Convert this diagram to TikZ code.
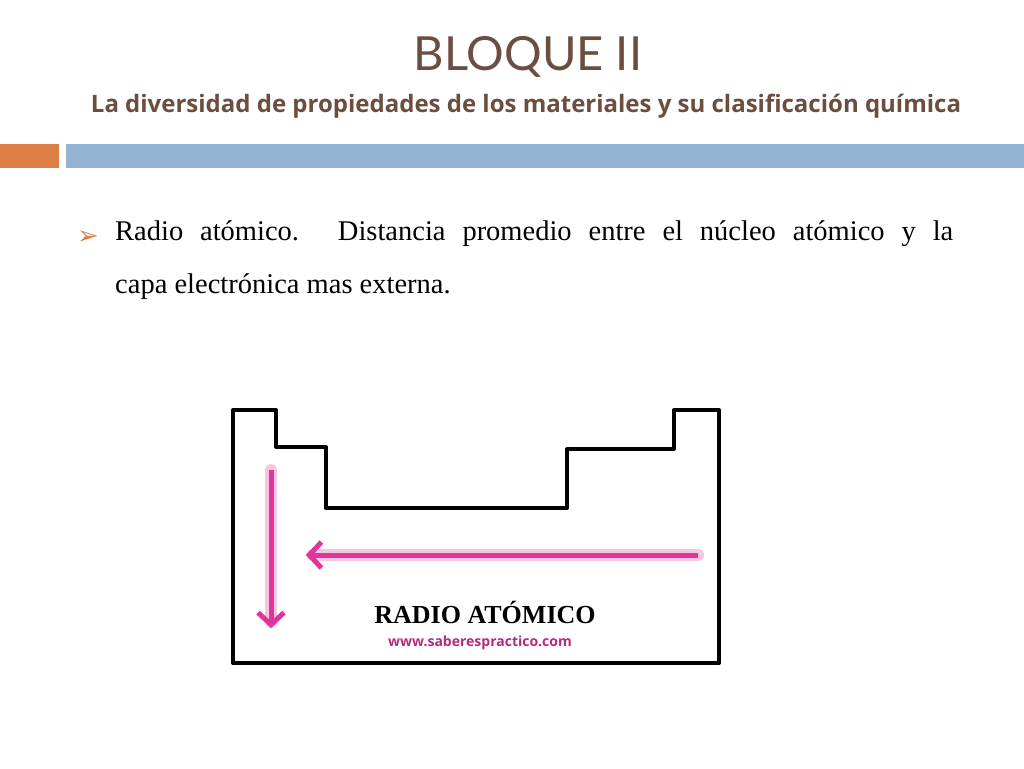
\documentclass[tikz,border=0pt]{standalone}
\usepackage{fontspec}
\setmainfont{Liberation Serif}
\newfontfamily\titlefont{Lato}
\newfontfamily\subfont{Open Sans}
\newfontfamily\symfont{DejaVu Sans}
\usetikzlibrary{arrows.meta}
\definecolor{titlec}{HTML}{6B4E3F}
\definecolor{orangec}{HTML}{DE7F46}
\definecolor{bluec}{HTML}{93B4D3}
\definecolor{pinkc}{HTML}{E0359E}
\definecolor{glowc}{HTML}{F4B0D2}
\tikzset{pinkarrow/.style={line width=5pt,pinkc,-{Straight Barb[length=12pt,width=26pt,line width=5pt]}},
 glow/.style={line width=12pt,glowc,line cap=round,opacity=0.7}}
\begin{document}
\begin{tikzpicture}[x=1pt,y=-1pt]
\useasboundingbox (0,0) rectangle (1024,768);
\fill[white] (0,0) rectangle (1024,768);
\fill[orangec] (0,144) rectangle (59,168);
\fill[bluec] (66,144) rectangle (1024,168);
\node[titlec,font=\titlefont\fontsize{47}{50}\selectfont] (title) at (528,57) {BLOQUE II};
\node[titlec,font=\subfont\bfseries\fontsize{24}{26}\selectfont] (sub) at (526,106) {La diversidad de propiedades de los materiales y su clasificación química};
\node[orangec,font=\symfont\fontsize{26}{28}\selectfont] (bul) at (88,238) {➢};
\node[anchor=north west,text width=838pt,align=justify,inner sep=0pt,font=\fontsize{28.5}{53}\selectfont] (body) at (115,220)
 {\hyphenpenalty=10000 Radio atómico. Distancia promedio entre el núcleo atómico y la\linebreak capa electrónica mas externa.};
\draw[line width=4pt,line join=round] (233,410)--(276,410)--(276,447)--(326,447)--(326,508)--(567,508)--(567,449)--(674,449)--(674,410)--(719,410)--(719,663)--(233,663)--cycle;
\coordinate (v1) at (271,470); \coordinate (v2) at (271,628);
\coordinate (h1) at (698,555); \coordinate (h2) at (306,555);
\draw[glow] (v1)--(271,622);
\draw[glow] (h1)--(312,555);
\draw[pinkarrow] (v1)--(v2);
\draw[pinkarrow] (h1)--(h2);
\node[font=\bfseries\fontsize{26}{28}\selectfont] (rad) at (485,612) {RADIO ATÓMICO};
\node[pinkc!80!black,font=\subfont\bfseries\fontsize{14}{16}\selectfont] (url) at (480,643) {www.saberespractico.com};
\end{tikzpicture}
\end{document}
